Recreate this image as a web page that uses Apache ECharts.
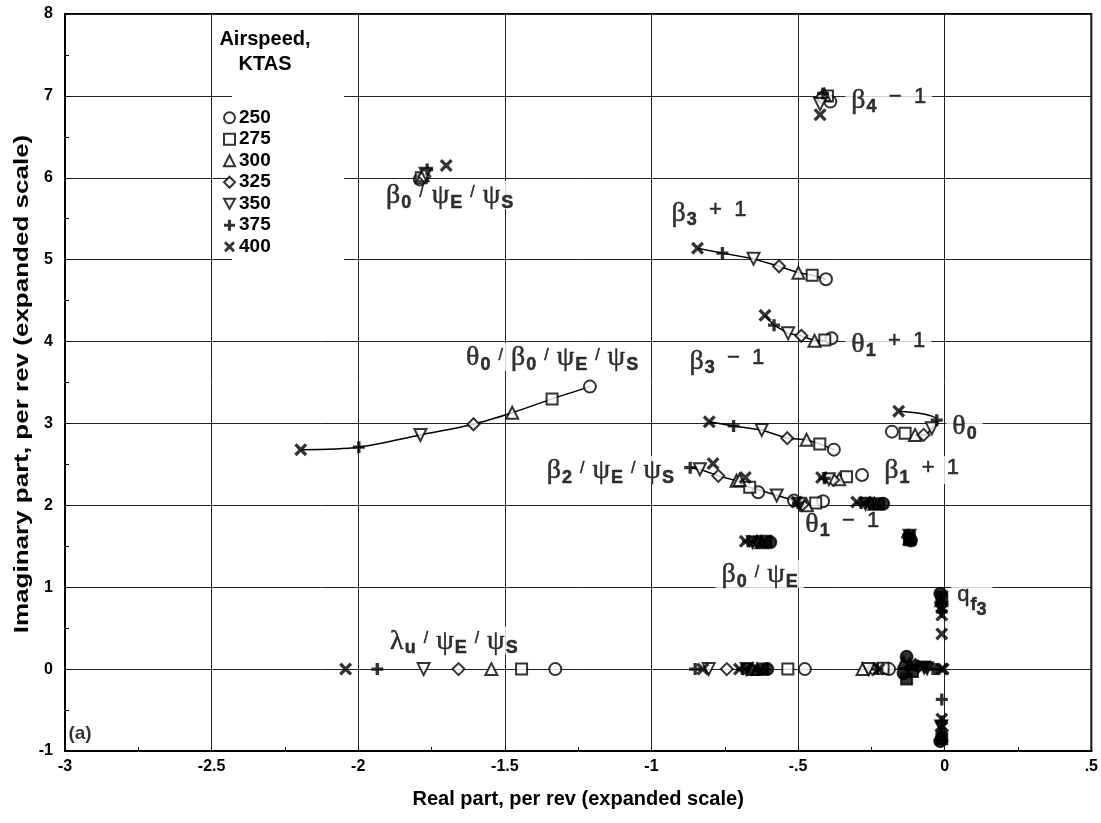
<!DOCTYPE html>
<html>
<head>
<meta charset="utf-8">
<script src="https://cdn.jsdelivr.net/npm/echarts@6/dist/echarts.min.js"></script>
<style>
  html, body { margin: 0; padding: 0; background: #fff; }
  #chart { width: 1101px; height: 823px; }
</style>
</head>
<body>
<div id="chart"></div>
<script>
// Airspeeds (KTAS); every mode array below lists its roots in this order as [real, imaginary]
const airspeeds = ['250', '275', '300', '325', '350', '375', '400'];
const xTickLabels = ['-3', '-2.5', '-2', '-1.5', '-1', '-.5', '0', '.5'];
const yTickLabels = ['-1', '0', '1', '2', '3', '4', '5', '6', '7', '8'];

const theta0Beta0PsiEPsiS = [[-1.21, 3.45], [-1.339, 3.30], [-1.475, 3.13], [-1.607, 2.99], [-1.788, 2.86], [-1.998, 2.71], [-2.196, 2.68]];
const beta4Minus1 = [[-0.39, 6.93], [-0.40, 7.00], [-0.41, 7.01], [-0.42, 6.98], [-0.425, 6.90], [-0.415, 7.03], [-0.425, 6.77]];
const beta0PsiEPsiS = [[-1.79, 5.98], [-1.785, 6.00], [-1.78, 6.03], [-1.775, 6.02], [-1.77, 6.05], [-1.765, 6.10], [-1.70, 6.15]];
const beta3Plus1 = [[-0.405, 4.76], [-0.452, 4.81], [-0.499, 4.84], [-0.565, 4.92], [-0.652, 5.01], [-0.758, 5.08], [-0.843, 5.14]];
const theta1Plus1 = [[-0.386, 4.04], [-0.409, 4.02], [-0.444, 4.01], [-0.489, 4.07], [-0.534, 4.10], [-0.582, 4.20], [-0.613, 4.32]];
const beta3Minus1 = [[-0.378, 2.68], [-0.426, 2.75], [-0.471, 2.80], [-0.537, 2.82], [-0.624, 2.92], [-0.720, 2.97], [-0.803, 3.02]];
const theta0 = [[-0.18, 2.90], [-0.135, 2.88], [-0.101, 2.86], [-0.072, 2.86], [-0.044, 2.94], [-0.027, 3.04], [-0.157, 3.15]];
const beta2PsiEPsiS = [[-0.514, 2.06], [-0.665, 2.22], [-0.71, 2.30], [-0.772, 2.36], [-0.835, 2.44], [-0.868, 2.46], [-0.79, 2.51]];
const beta2Branch = [[-0.636, 2.16], null, [-0.70, 2.31], null, [-0.573, 2.12], null, [-0.68, 2.34]];
const beta1Plus1 = [[-0.282, 2.37], [-0.335, 2.35], [-0.36, 2.32], [-0.38, 2.31], [-0.395, 2.32], [-0.41, 2.33], [-0.42, 2.34]];
const theta1Minus1 = [[-0.415, 2.05], [-0.44, 2.03], [-0.47, 2.00], [-0.485, 2.01], [-0.495, 2.02], [-0.50, 2.03], [-0.505, 2.04]];
const nearTwoCluster = [[-0.21, 2.02], [-0.225, 2.02], [-0.24, 2.02], [-0.255, 2.03], [-0.27, 2.02], [-0.285, 2.03], [-0.30, 2.04]];
const beta0PsiE = [[-0.595, 1.55], [-0.61, 1.56], [-0.625, 1.55], [-0.64, 1.56], [-0.655, 1.55], [-0.67, 1.56], [-0.68, 1.56]];
const oscCluster = [[-0.115, 1.57], [-0.12, 1.58], [-0.12, 1.60], [-0.125, 1.61], [-0.12, 1.63], [-0.125, 1.64], [-0.12, 1.62]];
const lambdaUPsiEPsiS = [[-1.328, 0], [-1.443, 0], [-1.546, 0], [-1.658, 0], [-1.777, 0], [-1.935, 0], [-2.043, 0]];
const realRootsB = [[-0.477, 0], [-0.535, 0], [-0.655, 0], [-0.743, 0], [-0.805, 0], [-0.851, 0], [-0.825, 0]];
const realRootsC = [[-0.605, 0], [-0.62, 0], [-0.64, 0], [-0.66, 0], [-0.675, 0], [-0.69, 0], [-0.70, 0]];
const realRootsD = [[-0.19, 0], [-0.21, 0.01], [-0.28, 0], [-0.245, 0], [-0.26, 0], [-0.23, 0], [-0.225, 0]];
const originCluster = [[-0.13, 0.15], [-0.13, -0.12], [-0.12, 0.06], [-0.09, 0.03], [-0.06, 0.01], [-0.03, 0.0], [-0.005, 0.0]];
const originCluster2 = [[-0.14, -0.05], [-0.11, -0.03], [-0.14, 0.08], [-0.10, 0.05], [-0.07, 0.02], [-0.04, 0.0], [-0.01, 0.0]];
const qf3Upper = [[-0.015, 0.92], [-0.01, 0.88], [-0.012, 0.84], [-0.01, 0.79], [-0.012, 0.74], [-0.01, 0.70], [-0.01, 0.66]];
const qf3Lower = [[-0.015, -0.88], [-0.01, -0.85], [-0.012, -0.80], [-0.01, -0.75], [-0.012, -0.70], [-0.01, -0.64], [-0.01, -0.61]];
const qf3Mid = [null, null, null, null, null, [-0.01, -0.37], [-0.01, 0.43]];

// Modes drawn as markers; tightly packed groups print as solid ink
const modes = [
  { pts: theta0Beta0PsiEPsiS }, { pts: beta4Minus1 }, { pts: beta0PsiEPsiS },
  { pts: beta3Plus1 }, { pts: theta1Plus1 }, { pts: beta3Minus1 }, { pts: theta0 },
  { pts: beta2PsiEPsiS }, { pts: beta2Branch }, { pts: beta1Plus1 }, { pts: theta1Minus1 },
  { pts: nearTwoCluster, solid: true }, { pts: beta0PsiE, solid: true }, { pts: oscCluster, solid: true },
  { pts: lambdaUPsiEPsiS }, { pts: realRootsB }, { pts: realRootsC, solid: true }, { pts: realRootsD },
  { pts: originCluster, solid: true }, { pts: originCluster2, solid: true },
  { pts: qf3Upper, solid: true }, { pts: qf3Lower, solid: true }, { pts: qf3Mid, solid: true }
];

// Root loci joined by a faired curve: [mode, airspeed indices in drawing order, smooth]
const curves = [
  [theta0Beta0PsiEPsiS, [0, 1, 2, 3, 4, 5, 6], 0.3],
  [beta3Plus1, [0, 1, 2, 3, 4, 5, 6], 0],
  [theta1Plus1, [0, 1, 2, 3, 4, 5, 6], 0],
  [beta3Minus1, [0, 1, 2, 3, 4, 5, 6], 0],
  [beta2PsiEPsiS, [0, 1, 2, 3, 4, 5], 0],
  [theta0, [6, 5, 4, 3, 2], 0.5]
];

// Mode labels: rich text and the left-middle anchor in axis units
const annotations = [
  ['{g|β}{s|4}{t|  −  1}', -0.32, 6.96],
  ['{g|β}{s|3}{t|  +  1}', -0.933, 5.58],
  ['{g|θ}{s|1}{t|  +  1}', -0.32, 3.98],
  ['{g|θ}{s|0}{d|/}{g|β}{s|0}{d|/}{g|ψ}{s|E}{d|/}{g|ψ}{s|S}', -1.634, 3.81],
  ['{g|β}{s|3}{t|  −  1}', -0.872, 3.77],
  ['{g|θ}{s|0}', 0.024, 2.97],
  ['{g|β}{s|2}{d|/}{g|ψ}{s|E}{d|/}{g|ψ}{s|S}', -1.359, 2.43],
  ['{g|β}{s|1}{t|  +  1}', -0.208, 2.43],
  ['{g|θ}{s|1}{t|  −  1}', -0.477, 1.78],
  ['{g|β}{s|0}{d|/}{g|ψ}{s|E}', -0.763, 1.16],
  ['{t|q}{s|f}{ss|3}', 0.041, 0.88],
  ['{g|λ}{s|u}{d|/}{g|ψ}{s|E}{d|/}{g|ψ}{s|S}', -1.893, 0.35],
  ['{g|β}{s|0}{d|/}{g|ψ}{s|E}{d|/}{g|ψ}{s|S}', -1.907, 5.79]
];
const panelTag = ['(a)', -2.99, -0.79];

const SANS = '"Liberation Sans", Arial, Helvetica, sans-serif';
const SERIF = '"Liberation Serif", "DejaVu Serif", serif';

const symbols = [
  'circle',
  'rect',
  'triangle',
  'diamond',
  'path://M0,0 L10,0 L5,9 Z',
  'path://M3.6,0 H6.4 V3.6 H10 V6.4 H6.4 V10 H3.6 V6.4 H0 V3.6 H3.6 Z',
  'path://M0,1.8 L1.8,0 L5,3.2 L8.2,0 L10,1.8 L6.8,5 L10,8.2 L8.2,10 L5,6.8 L1.8,10 L0,8.2 L3.2,5 Z'
];
const symbolSizes = [12, 11, 12, 12, 12, 12, 13];
const filledGlyph = [false, false, false, false, false, true, true];

const markerSeries = airspeeds.map((name, i) => ({
  name: name,
  type: 'scatter',
  z: 4,
  symbol: symbols[i],
  symbolSize: symbolSizes[i],
  itemStyle: filledGlyph[i]
    ? { color: '#000', borderWidth: 0 }
    : { color: '#fff', borderColor: '#000', borderWidth: 2 },
  data: modes.filter(m => m.pts[i]).map(m => ({
    value: m.pts[i],
    itemStyle: m.solid ? { color: '#000', borderColor: '#000' } : undefined
  }))
}));

const curveSeries = curves.map(([pts, idx, smooth]) => ({
  type: 'line',
  z: 3,
  silent: true,
  symbol: 'none',
  smooth: smooth,
  lineStyle: { color: '#000', width: 1.5 },
  data: idx.map(k => pts[k])
}));

const ink = { color: '#000', textBorderColor: '#000', textBorderWidth: 0.5 };
const labelSeries = {
  type: 'scatter',
  z: 2,
  silent: true,
  symbolSize: 1,
  itemStyle: { color: 'rgba(0,0,0,0)' },
  label: {
    show: true,
    position: 'right',
    distance: 0,
    offset: [-6, 0],
    backgroundColor: '#fff',
    padding: [1, 6, 1, 6],
    rich: {
      g: Object.assign({ fontFamily: SERIF, fontSize: 28, lineHeight: 26, verticalAlign: 'top' }, ink),
      t: Object.assign({ fontFamily: SANS, fontSize: 22, lineHeight: 26, verticalAlign: 'top' }, ink),
      s: Object.assign({ fontFamily: SANS, fontSize: 18, fontWeight: 'bold', lineHeight: 18, padding: [12, 0, 0, 1], verticalAlign: 'top' }, ink),
      ss: Object.assign({ fontFamily: SANS, fontSize: 18, fontWeight: 'bold', lineHeight: 18, padding: [17, 0, 0, 0], verticalAlign: 'top' }, ink),
      d: Object.assign({ fontFamily: SANS, fontSize: 16, lineHeight: 18, padding: [3, 8, 0, 8], verticalAlign: 'top' }, ink)
    }
  },
  data: annotations.map(([text, x, y]) => ({ value: [x, y], label: { formatter: text } })).concat([{
    value: [panelTag[1], panelTag[2]],
    label: {
      formatter: panelTag[0], backgroundColor: 'transparent', offset: [0, 0], padding: 0,
      fontFamily: SANS, fontSize: 19, fontWeight: 'bold', color: '#000'
    }
  }])
};

const chart = echarts.init(document.getElementById('chart'), null, { renderer: 'canvas' });
chart.setOption({
  animation: false,
  backgroundColor: '#fff',
  grid: { left: 65, right: 8, top: 14, bottom: 72, show: true, borderColor: '#000', borderWidth: 2 },
  xAxis: {
    type: 'value', min: -3, max: 0.5, interval: 0.5,
    name: 'Real part, per rev (expanded scale)',
    nameLocation: 'middle', nameGap: 38,
    nameTextStyle: { fontFamily: SANS, fontSize: 20, fontWeight: 'bold', color: '#000' },
    axisLine: { onZero: false, lineStyle: { color: '#000', width: 2 } },
    axisTick: { inside: true, length: 4, lineStyle: { color: '#000' } },
    minorTick: { show: true, splitNumber: 2, length: 4, lineStyle: { color: '#000' } },
    splitLine: { show: true, lineStyle: { color: '#222', width: 1 } },
    axisLabel: {
      fontFamily: SANS, fontSize: 16, fontWeight: 'bold', color: '#000', margin: 8,
      formatter: v => xTickLabels[Math.round((v + 3) / 0.5)]
    }
  },
  yAxis: {
    type: 'value', min: -1, max: 8, interval: 1,
    axisLine: { onZero: false, lineStyle: { color: '#000', width: 2 } },
    axisTick: { inside: true, length: 4, lineStyle: { color: '#000' } },
    minorTick: { show: true, splitNumber: 2, length: 4, lineStyle: { color: '#000' } },
    splitLine: { show: true, lineStyle: { color: '#222', width: 1 } },
    axisLabel: {
      fontFamily: SANS, fontSize: 16, fontWeight: 'bold', color: '#000', margin: 12,
      formatter: v => yTickLabels[Math.round(v + 1)]
    }
  },
  legend: {
    orient: 'vertical',
    left: 223, top: 107,
    itemWidth: 11, itemHeight: 11, itemGap: 0,
    padding: 0,
    selectedMode: false,
    textStyle: { fontFamily: SANS, fontSize: 19, fontWeight: 'bold', color: '#000', lineHeight: 21.5, padding: [0, 0, 0, -1] },
    data: airspeeds
  },
  graphic: [
    { type: 'rect', z: 1, shape: { x: 232, y: 18, width: 112, height: 250 }, style: { fill: '#fff' } },
    {
      type: 'text', z: 5, x: 265, y: 27,
      style: { text: 'Airspeed,\nKTAS', font: 'bold 20px ' + SANS, fill: '#000', align: 'center', lineHeight: 25 }
    },
    {
      type: 'text', z: 5, x: 22, y: 384, rotation: Math.PI / 2, scaleX: 1.3,
      style: {
        text: 'Imaginary part, per rev (expanded scale)', font: 'bold 20px ' + SANS,
        fill: '#000', align: 'center', verticalAlign: 'middle'
      }
    }
  ],
  series: [labelSeries, ...curveSeries, ...markerSeries]
});
</script>
</body>
</html>
